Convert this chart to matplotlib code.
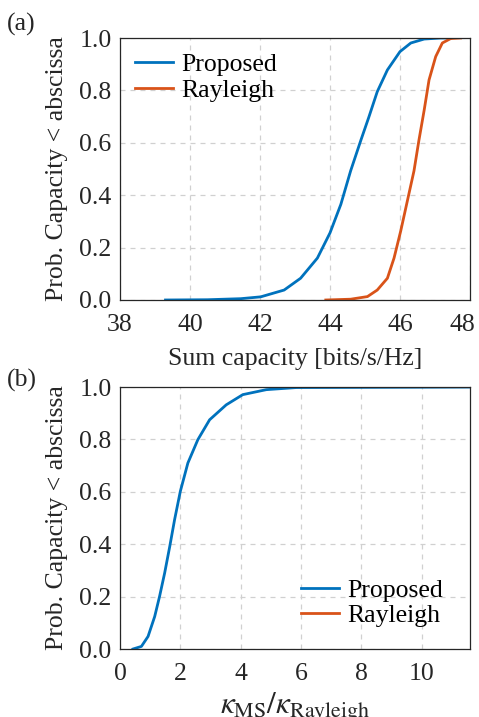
import matplotlib
matplotlib.use("Agg")
import matplotlib.pyplot as plt
import matplotlib.transforms as mtrans

plt.rcParams['font.family'] = ['Liberation Serif', 'DejaVu Serif']
plt.rcParams['mathtext.fontset'] = 'stix'

# (a) Sum capacity CDF
cap_prop_x = [39.3, 40.5, 41.45, 42.02, 42.69, 43.16, 43.64, 44.0, 44.31, 44.59, 44.88,
              45.11, 45.35, 45.64, 46.0, 46.31, 46.69, 47.16, 47.45]
cap_prop_y = [0.0, 0.001, 0.005, 0.012, 0.038, 0.083, 0.16, 0.256, 0.365, 0.493, 0.609,
              0.698, 0.795, 0.878, 0.948, 0.981, 0.996, 1.0, 1.0]
cap_ray_x = [43.88, 44.59, 45.07, 45.35, 45.64, 45.83, 46.02, 46.21, 46.4, 46.54, 46.69,
             46.83, 47.02, 47.21, 47.45, 47.73]
cap_ray_y = [0.0, 0.003, 0.013, 0.038, 0.083, 0.16, 0.263, 0.378, 0.493, 0.609, 0.724,
             0.84, 0.929, 0.981, 0.998, 1.0]

# (b) kappa ratio CDF
k_prop_x = [0.43, 0.71, 0.93, 1.15, 1.31, 1.48, 1.65, 1.81, 2.0, 2.25, 2.58, 2.97, 3.52,
            4.07, 4.85, 5.84, 11.6]
k_prop_y = [0.0, 0.01, 0.048, 0.124, 0.2, 0.29, 0.392, 0.494, 0.602, 0.71, 0.799, 0.875,
            0.932, 0.971, 0.99, 0.998, 1.0]
k_ray_x = []
k_ray_y = []

labels = ['Proposed', 'Rayleigh']
c_blue = '#0072BD'
c_red = '#D95319'

fig = plt.figure(figsize=(4.79, 7.17), dpi=100)
ax1 = fig.add_axes([0.2505, 0.5816, 0.7307, 0.3654])
ax2 = fig.add_axes([0.2505, 0.0948, 0.7307, 0.3654])

fs = 18.5
tc = '#262626'
for ax in (ax1, ax2):
    ax.grid(True, linestyle=(0, (4, 4)), color='#d0d0d0', linewidth=0.9)
    ax.set_axisbelow(True)
    ax.tick_params(axis='y', length=0, labelsize=fs, pad=6, colors=tc)
    ax.tick_params(axis='x', length=0, labelsize=fs, pad=10, colors=tc)
    for s in ax.spines.values():
        s.set_color(tc)
        s.set_linewidth(0.9)
    ax.set_ylim(0, 1)
    ax.set_yticks([0, 0.2, 0.4, 0.6, 0.8, 1.0])
    ax.set_yticklabels(['0.0', '0.2', '0.4', '0.6', '0.8', '1.0'])
    ax.set_ylabel('Prob. Capacity < abscissa', fontsize=fs, color=tc, labelpad=8)

ax1.plot(cap_prop_x, cap_prop_y, color=c_blue, lw=2, label=labels[0])
ax1.plot(cap_ray_x, cap_ray_y, color=c_red, lw=2, label=labels[1])
ax1.set_xlim(38, 48)
ax1.set_xticks([38, 40, 42, 44, 46, 48])
ax1.set_xlabel('Sum capacity [bits/s/Hz]', fontsize=fs, color=tc, labelpad=9)
ax1.legend(loc='upper left', frameon=False, fontsize=fs, handlelength=1.45,
           borderaxespad=0.2, labelspacing=0.1, handletextpad=0.35,
           bbox_to_anchor=(0.0, 1.0))
# keep the last tick label inside the figure (as in the reference)
fig.canvas.draw()
lab = ax1.get_xticklabels()[-1]
lab.set_transform(lab.get_transform() + mtrans.ScaledTranslation(-8 / 100, 0, fig.dpi_scale_trans))

ax2.plot(k_ray_x, k_ray_y, color=c_red, lw=2, label=labels[1])
ax2.plot(k_prop_x, k_prop_y, color=c_blue, lw=2, label=labels[0])
ax2.set_xlim(0, 11.6)
ax2.set_xticks([0, 2, 4, 6, 8, 10])
ax2.set_xlabel(r'$\kappa_{\mathrm{MS}}/\kappa_{\mathrm{Rayleigh}}$', fontsize=fs + 4,
               color=tc, labelpad=4)
h, l = ax2.get_legend_handles_labels()
ax2.legend([h[1], h[0]], [l[1], l[0]], loc='lower right', frameon=False, fontsize=fs,
           handlelength=1.45, labelspacing=0.1, handletextpad=0.35,
           bbox_to_anchor=(0.99, -0.006))

fig.text(0.015, 0.966, '(a)', fontsize=fs, color=tc, va='center')
fig.text(0.015, 0.469, '(b)', fontsize=fs, color=tc, va='center')

fig.savefig('out.png', dpi=100)
